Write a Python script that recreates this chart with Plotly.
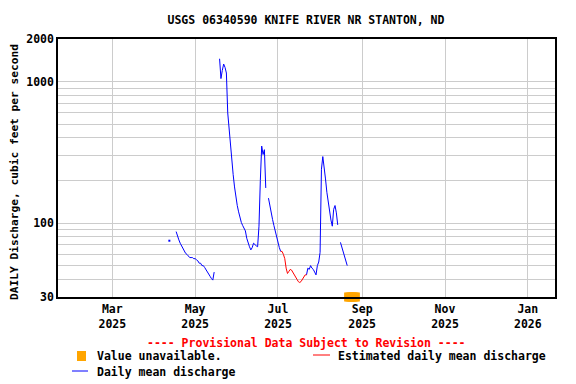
import plotly.graph_objects as go
import pandas as pd
import math

# ---------------- data ----------------
title_text = "USGS 06340590 KNIFE RIVER NR STANTON, ND"
y_label = "DAILY Discharge, cubic feet per second"

approved_start = "2025-04-12"
approved_values = [
    75, None, None, None, None,                                   # Apr 12-16
    87, 80, 76, 72, 69, 66, 63, 61, 60, 58, 57, 57, 57, 56,       # Apr 17-30
    56, 55, 54, 52, 52, 50, 50, 48.5, 47, 45.5, 44, 42, 40.5, 39.5, 45,  # May 1-15
    None, None, None,                                             # May 16-18
    1450, 1050, 1200, 1330, 1260, 1150, 600, 455, 360, 275, 220, 180, 150,  # May 19-31
    133, 120, 109, 101, 96, 92, 88, 78, 72, 68,                   # Jun 1-10
    64.6, 67, 72, 70, 69, 68, 95, 200, 350, 305,                  # Jun 11-20
    330, 177, None, 150, 131, 118, 106, 96, 87, 80,               # Jun 21-30
    72, 67, 63,                                                   # Jul 1-3
    None, None, None, None, None, None, None, None, None,
    None, None, None, None, None, None, None, None, None,         # Jul 4-21
    43, 48, 47, 50, 48, 47, 45, 43, 50, 53,                       # Jul 22-31
    62, 240, 295, 255, 205, 165, 140, 124, 105, 95,               # Aug 1-10
    125, 133, 118, 97, None, 73, 68, 64, 60, 55,                  # Aug 11-20
    50,                                                           # Aug 21
]

estimated_start = "2025-07-03"
estimated_values = [63, 63, 60, 56, 48, 44, 45.5, 47, 46.5, 45,
                    43, 41.5, 40, 38.5, 38, 38.6, 40, 42, 43, 43]

unavailable_dates = ["2025-08-22", "2025-08-23", "2025-08-24",
                     "2025-08-25", "2025-08-26", "2025-08-27"]

x_tick_dates = ["2025-03-01", "2025-05-01", "2025-07-01",
                "2025-09-01", "2025-11-01", "2026-01-01"]
x_tick_labels = ["Mar<br>2025", "May<br>2025", "Jul<br>2025",
                 "Sep<br>2025", "Nov<br>2025", "Jan<br>2026"]
x_range = ["2025-01-20", "2026-01-21"]

y_grid_values = [30, 40, 50, 60, 70, 80, 90, 100, 200, 300, 400, 500,
                 600, 700, 800, 900, 1000, 2000]
y_labeled = [30, 100, 1000, 2000]
y_min, y_max = 30, 2000

# ---------------- figure ----------------
OFF = 8  # default page body margin
W, H = 576 - OFF, 384 - OFF
L, R, T, B = 58 - OFF, 21, 39 - OFF, 87
PW, PH = W - L - R, H - T - B
FONT = "DejaVu Sans Mono"


def px(xp):
    return (xp - OFF - L) / PW


def py(yp):
    return (H - B - (yp - OFF)) / PH


approved_dates = pd.date_range(approved_start, periods=len(approved_values), freq="D")
estimated_dates = pd.date_range(estimated_start, periods=len(estimated_values), freq="D")

# isolated single days (no neighbours) are drawn as dots
iso_x, iso_y = [], []
for i, v in enumerate(approved_values):
    if v is None:
        continue
    prev_none = i == 0 or approved_values[i - 1] is None
    next_none = i == len(approved_values) - 1 or approved_values[i + 1] is None
    if prev_none and next_none:
        iso_x.append(approved_dates[i])
        iso_y.append(v)

fig = go.Figure()
fig.add_trace(go.Scatter(x=approved_dates, y=approved_values, mode="lines",
                         line=dict(color="#0000ff", width=1), connectgaps=False,
                         showlegend=False, hoverinfo="skip"))
fig.add_trace(go.Scatter(x=iso_x, y=iso_y, mode="markers",
                         marker=dict(color="#0000ff", size=2, symbol="square"),
                         showlegend=False, hoverinfo="skip"))
fig.add_trace(go.Scatter(x=estimated_dates, y=estimated_values, mode="lines",
                         line=dict(color="#ff0000", width=1),
                         showlegend=False, hoverinfo="skip"))
fig.add_trace(go.Scatter(x=unavailable_dates, y=[y_min] * len(unavailable_dates),
                         mode="markers", cliponaxis=False,
                         marker=dict(color="#ffa500", size=9, symbol="square",
                                     line=dict(width=0)),
                         showlegend=False, hoverinfo="skip"))

fig.update_layout(
    width=W, height=H,
    margin=dict(l=L, r=R, t=T, b=B, autoexpand=False),
    paper_bgcolor="white", plot_bgcolor="white",
    font=dict(family=FONT, size=11.5, color="black", weight="bold"),
    showlegend=False,
    title=dict(text=title_text, x=px(306), xref="paper", xanchor="center",
               y=1 - (20 - OFF) / H, yref="container", yanchor="middle",
               font=dict(family=FONT, size=11.5, color="black", weight="bold")),
)

fig.update_xaxes(
    type="date", range=x_range,
    tickvals=x_tick_dates, ticktext=x_tick_labels,
    showgrid=True, gridcolor="#cccccc", gridwidth=1,
    showline=True, linecolor="black", linewidth=1.5, mirror=True,
    ticks="", zeroline=False,
    tickfont=dict(family=FONT, size=11.5, color="black", weight="bold"),
)

fig.update_yaxes(
    type="log", range=[math.log10(y_min), math.log10(y_max)],
    tickvals=y_grid_values,
    ticktext=[str(v) if v in y_labeled else "" for v in y_grid_values],
    showgrid=True, gridcolor="#cccccc", gridwidth=1,
    showline=True, linecolor="black", linewidth=1.5, mirror=True,
    ticks="", zeroline=False,
    tickfont=dict(family=FONT, size=11.5, color="black", weight="bold"),
)

# y-axis title
fig.add_annotation(text=y_label, xref="paper", yref="paper",
                   x=px(14), y=py(172), textangle=-90, showarrow=False,
                   xanchor="center", yanchor="middle",
                   font=dict(family=FONT, size=11.2, color="black", weight="bold"))

# legend block
fig.add_annotation(text="---- Provisional Data Subject to Revision ----",
                   xref="paper", yref="paper", x=px(306), y=py(343),
                   showarrow=False, xanchor="center", yanchor="middle",
                   font=dict(family=FONT, size=11.5, color="#ff0000", weight="bold"))
fig.add_shape(type="rect", xref="paper", yref="paper",
              x0=px(77), x1=px(86), y0=py(361), y1=py(351),
              fillcolor="#ffa500", line=dict(width=0))
fig.add_annotation(text="Value unavailable.", xref="paper", yref="paper",
                   x=px(95), y=py(356), showarrow=False, xanchor="left",
                   yanchor="middle",
                   font=dict(family=FONT, size=11.5, color="black", weight="bold"))
fig.add_shape(type="line", xref="paper", yref="paper",
              x0=px(313), x1=px(330), y0=py(355), y1=py(355),
              line=dict(color="#ff0000", width=1))
fig.add_annotation(text="Estimated daily mean discharge", xref="paper", yref="paper",
                   x=px(336), y=py(356), showarrow=False, xanchor="left",
                   yanchor="middle",
                   font=dict(family=FONT, size=11.5, color="black", weight="bold"))
fig.add_shape(type="line", xref="paper", yref="paper",
              x0=px(72), x1=px(88), y0=py(371), y1=py(371),
              line=dict(color="#0000ff", width=1))
fig.add_annotation(text="Daily mean discharge", xref="paper", yref="paper",
                   x=px(95), y=py(372), showarrow=False, xanchor="left",
                   yanchor="middle",
                   font=dict(family=FONT, size=11.5, color="black", weight="bold"))

fig.write_html("out.html")
